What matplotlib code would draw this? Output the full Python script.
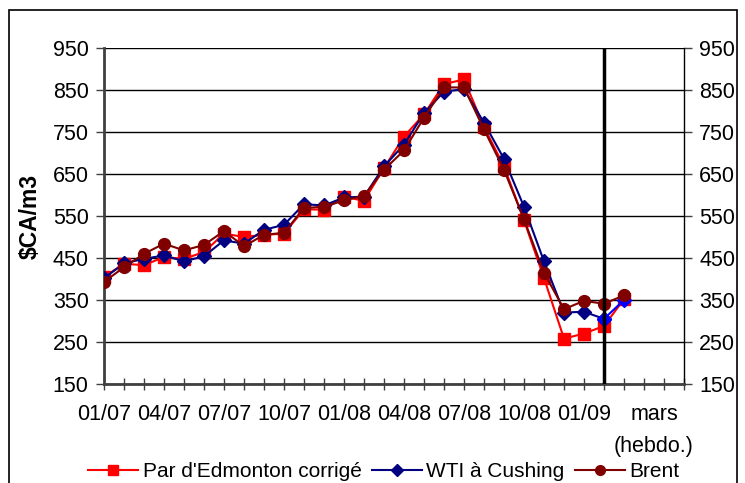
import matplotlib
matplotlib.use('Agg')
import matplotlib.pyplot as plt
from matplotlib.patches import Rectangle
from matplotlib.lines import Line2D

plt.rcParams['font.family'] = ['Liberation Sans', 'DejaVu Sans']

# monthly points 01/07 .. 02/09, then weekly (march)
month_labels = ['01/07', '04/07', '07/07', '10/07', '01/08', '04/08', '07/08', '10/08', '01/09']
weekly_label = 'mars\n(hebdo.)'
weekly_start = 25

edmonton = [405, 436, 433, 452, 448, 464, 508, 500, 505, 508, 566, 565, 596, 586, 664, 739,
            792, 864, 875, 762, 668, 540, 402, 258, 270, 288, 352]
wti = [402, 437, 448, 456, 442, 454, 492, 484, 517, 529, 578, 575, 594, 596, 668, 720,
       795, 846, 852, 772, 686, 572, 442, 320, 322, 305, 350]
brent = [393, 428, 460, 484, 468, 481, 514, 478, 505, 510, 569, 572, 587, 598, 660, 706,
         784, 856, 856, 756, 660, 542, 415, 328, 348, 341, 361]

x = list(range(len(edmonton)))
fs = 15.5

fig = plt.figure(figsize=(7.45, 4.83), dpi=100)
fig.patch.set_facecolor('white')
fig.patches.append(Rectangle((0.012, -0.02), 0.977, 1.0, transform=fig.transFigure,
                             fill=False, edgecolor='black', linewidth=1.2))

ax = fig.add_axes([0.1396, 0.205, 0.7785, 0.6957])

ax.plot(x, edmonton, color='#FF0000', lw=1.5, marker='s', ms=8.5, mec='#FF0000', zorder=3,
        label="Par d'Edmonton corrigé")
ax.plot(x[:weekly_start + 1], wti[:weekly_start + 1], color='#000080', lw=1.5, marker='D', ms=7,
        zorder=4, label='WTI à Cushing')
ax.plot(x[weekly_start:], wti[weekly_start:], color='#0000FF', lw=1.5, marker='D', ms=7, zorder=4)
ax.plot(x, brent, color='#800000', lw=1.5, marker='o', ms=8.5, zorder=5, label='Brent')

ax.axvline(weekly_start, color='black', lw=2.5, zorder=6)

ax.set_xlim(0, 29)
ax.set_ylim(150, 950)
ax.set_yticks(range(150, 951, 100))
ax.yaxis.grid(True, color='black', lw=1)
ax.set_axisbelow(True)

ax.set_xticks(range(0, 30))
ax.set_xticklabels([month_labels[i // 3] if i % 3 == 0 and i // 3 < len(month_labels) else ''
                    for i in range(30)])
ax.tick_params(axis='x', direction='inout', length=9, width=1, color='#404040',
               labelsize=fs, pad=10)
ax.text(27.5, -0.06, weekly_label, transform=ax.get_xaxis_transform(), ha='center', va='top',
        fontsize=fs, linespacing=1.65)
ax.tick_params(axis='y', direction='out', length=6, width=1, color='#404040', labelsize=fs,
               left=True, right=True, labelleft=True, labelright=True, pad=5)

for s in ['left', 'bottom']:
    ax.spines[s].set_color('#404040')
    ax.spines[s].set_linewidth(2)
ax.spines['right'].set_color('black')
ax.spines['right'].set_linewidth(1)
ax.spines['top'].set_visible(False)

ax.set_ylabel('$CA/m3', fontsize=16.5, fontweight='bold', labelpad=8)

handles = [Line2D([], [], color='#FF0000', lw=1.5, marker='s', ms=7),
           Line2D([], [], color='#000080', lw=1.5, marker='D', ms=6),
           Line2D([], [], color='#800000', lw=1.5, marker='o', ms=7)]
fig.legend(handles, ["Par d'Edmonton corrigé", 'WTI à Cushing', 'Brent'], loc='lower center',
           bbox_to_anchor=(0.515, -0.035), ncol=3, frameon=False, fontsize=15,
           handlelength=2.4, handletextpad=0.2, columnspacing=0.5)

fig.savefig('out.png', dpi=100)
